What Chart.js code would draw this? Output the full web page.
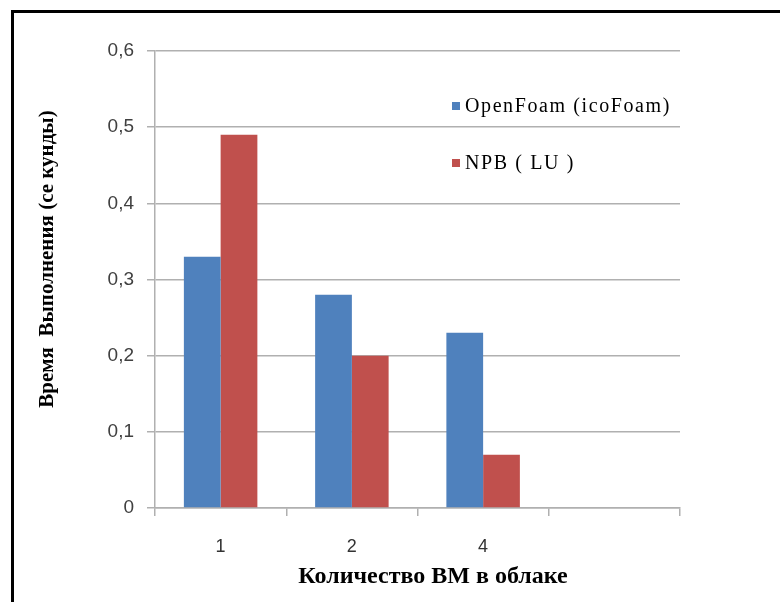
<!DOCTYPE html>
<html>
<head>
<meta charset="utf-8">
<script src="https://cdn.jsdelivr.net/npm/chart.js@4"></script>
<style>
  body { margin: 0; background: #fff; }
  #wrap { position: relative; width: 780px; height: 602px; overflow: hidden; }
  #frame { position: absolute; left: 11px; top: 10px; width: 800px; height: 620px;
           border-top: 3px solid #000; border-left: 3px solid #000; pointer-events: none; }
</style>
</head>
<body>
<div id="wrap">
  <canvas id="myChart" width="780" height="602"></canvas>
  <div id="frame"></div>
</div>
<script>
var categories = ['1', '2', '4', ''];
var openFoam = [0.33, 0.28, 0.23, null];
var npbLU = [0.49, 0.20, 0.07, null];
var seriesNames = ['OpenFoam (icoFoam)', 'NPB ( LU )'];
var yTicks = [0, 0.1, 0.2, 0.3, 0.4, 0.5, 0.6];
var xTitle = 'Количество ВМ в облаке';
var yTitle = 'Время  Выполнения (се кунды)';

// legend inside the plot (top right) and the two axis titles,
// which sit a bit off-centre in the original
var extras = {
  id: 'extras',
  afterDraw: function(chart) {
    var ctx = chart.ctx;
    var rows = [106, 163];
    ctx.save();
    ctx.font = '20px "Liberation Serif", serif';
    ctx.textBaseline = 'middle';
    ctx.letterSpacing = '1.6px';
    chart.data.datasets.forEach(function(ds, i) {
      ctx.fillStyle = ds.backgroundColor;
      ctx.fillRect(452, rows[i] - 4, 8, 8);
      ctx.fillStyle = '#000';
      ctx.fillText(ds.label, 465, rows[i] + 1);
    });
    ctx.letterSpacing = '0px';
    ctx.textAlign = 'center';
    ctx.font = 'bold 24px "Liberation Serif", serif';
    ctx.fillText(xTitle, 433, 577);
    ctx.translate(48, 259);
    ctx.rotate(-Math.PI / 2);
    ctx.font = 'bold 21px "Liberation Serif", serif';
    ctx.fillText(yTitle, 0, 0);
    ctx.restore();
  }
};

var ctx = document.getElementById('myChart').getContext('2d');
var chart = new Chart(ctx, {
  type: 'bar',
  data: {
    labels: categories,
    datasets: [{
      label: seriesNames[0],
      data: openFoam,
      backgroundColor: '#4F81BD'
    }, {
      label: seriesNames[1],
      data: npbLU,
      backgroundColor: '#C0504D'
    }]
  },
  options: {
    responsive: false,
    animation: false,
    layout: { padding: { left: 30, top: 51, right: 100, bottom: 10 } },
    datasets: { bar: { categoryPercentage: 0.56, barPercentage: 1.0 } },
    plugins: {
      legend: { display: false },
      tooltip: { enabled: false }
    },
    scales: {
      x: {
        afterFit: function(s) { s.height = 84; },
        border: { color: '#b0b0b0', width: 1.5 },
        grid: { drawOnChartArea: false, tickLength: 8, color: '#b0b0b0', lineWidth: 1.5, offset: true },
        ticks: { padding: 20, color: '#333', font: { family: '"Liberation Sans", sans-serif', size: 18 } }
      },
      y: {
        min: 0,
        max: 0.6,
        afterFit: function(s) { s.width = 125; },
        afterBuildTicks: function(s) { s.ticks = yTicks.map(function(v) { return { value: v }; }); },
        border: { color: '#b0b0b0', width: 1.5 },
        grid: { color: '#b0b0b0', lineWidth: 1.5, tickLength: 8 },
        ticks: {
          padding: 13,
          color: '#404040',
          font: { family: '"Liberation Sans", sans-serif', size: 19 },
          callback: function(v) { return v === 0 ? '0' : v.toFixed(1).replace('.', ','); }
        }
      }
    }
  },
  plugins: [extras]
});
</script>
</body>
</html>
